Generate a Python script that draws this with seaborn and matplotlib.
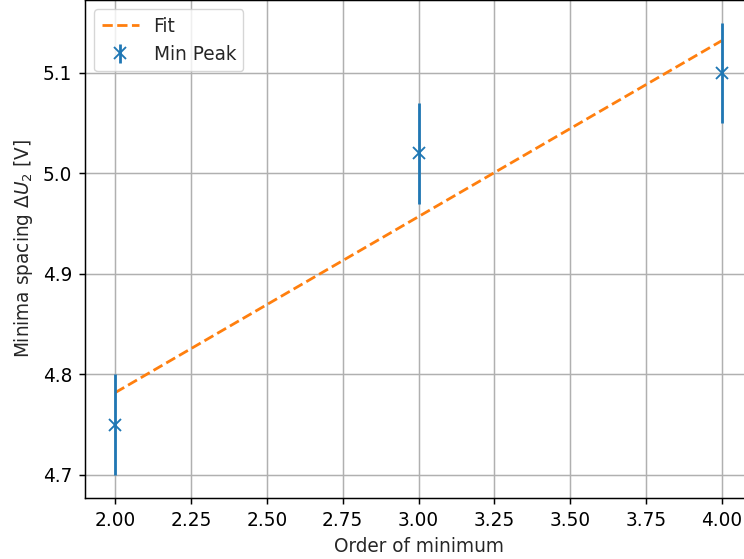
import numpy as np
import pandas as pd
import seaborn as sns
import matplotlib
matplotlib.use("Agg")
import matplotlib.pyplot as plt

# Data
order = [2, 3, 4]
spacing = [4.75, 5.02, 5.10]
spacing_err = [0.05, 0.05, 0.05]
fit_x = [2, 4]
fit_y = [4.782, 5.132]

sc = 4 / 3  # reference looks rendered at ~133 dpi

sns.set_style("ticks")
plt.rcParams['font.family'] = ['DejaVu Sans']
plt.rcParams['font.size'] = 10 * sc

fig = plt.figure(figsize=(7.44, 5.59), dpi=100)
ax = fig.add_axes([85 / 744, (559 - 497.6) / 559, (752 - 85) / 744, 497.6 / 559])

# Fit line
fit_df = pd.DataFrame({'x': fit_x, 'y': fit_y})
sns.lineplot(data=fit_df, x='x', y='y', ax=ax, color='C1', linestyle='--',
             linewidth=1.5 * sc, label='Fit')
# Measured minima with error bars
ax.errorbar(order, spacing, yerr=spacing_err, fmt='x', color='C0',
            markersize=6 * sc, elinewidth=1.5 * sc, markeredgewidth=1.0 * sc,
            label='Min Peak')

ax.set_xlim(1.9, 4.1)
ax.set_ylim(4.6775, 5.1725)
ax.set_xticks(np.arange(2.0, 4.01, 0.25))
ax.set_yticks([4.7, 4.8, 4.9, 5.0, 5.1])
ax.set_xlabel('Order of minimum', fontsize=10 * sc, labelpad=4 * sc)
ax.set_ylabel(r'Minima spacing $\Delta U_2$ [V]', fontsize=10 * sc, labelpad=4 * sc)
ax.grid(True, color='#b0b0b0', linewidth=0.8 * sc)
ax.tick_params(direction='out', length=3.5 * sc, width=0.8 * sc, pad=3.5 * sc,
               colors='black', labelsize=10 * sc)
for s in ax.spines.values():
    s.set_color('black')
    s.set_linewidth(0.8 * sc)
ax.legend(loc='upper left', fontsize=10 * sc, borderaxespad=0.5)

fig.savefig('out.png', dpi=100)
